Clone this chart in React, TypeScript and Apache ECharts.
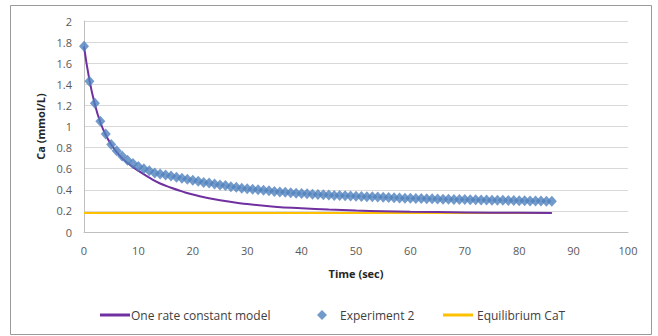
import React, { useEffect, useRef } from "react";
import * as echarts from "echarts";

const expTimes: number[] = Array.from({ length: 87 }, (_, i) => i);
const expValues: number[] = [
  1.76, 1.43, 1.22, 1.05, 0.93, 0.83, 0.77, 0.72, 0.68, 0.65,
  0.62, 0.6, 0.58, 0.56, 0.55, 0.54, 0.53, 0.52, 0.51, 0.5,
  0.49, 0.48, 0.47, 0.465, 0.455, 0.445, 0.44, 0.43, 0.425, 0.415,
  0.41, 0.405, 0.4, 0.395, 0.39, 0.385, 0.38, 0.376, 0.372, 0.368,
  0.365, 0.362, 0.359, 0.356, 0.353, 0.35, 0.347, 0.345, 0.343, 0.341,
  0.339, 0.337, 0.335, 0.333, 0.331, 0.329, 0.327, 0.325, 0.323, 0.321,
  0.32, 0.318, 0.317, 0.315, 0.314, 0.312, 0.311, 0.31, 0.309, 0.308,
  0.307, 0.306, 0.305, 0.304, 0.303, 0.302, 0.301, 0.3, 0.299, 0.298,
  0.297, 0.296, 0.295, 0.294, 0.293, 0.292, 0.291,
];

const modelTimes: number[] = [0, 1, 2, 3, 4, 5, 6, 7, 8, 9, 10, 12, 14, 16, 18, 20, 25, 30, 35, 40, 45, 50, 55, 60, 70, 80, 86];
const modelValues: number[] = [1.76, 1.44, 1.21, 1.04, 0.92, 0.83, 0.76, 0.7, 0.655, 0.615, 0.58, 0.515, 0.46, 0.42, 0.385, 0.355, 0.3, 0.265, 0.24, 0.225, 0.213, 0.204, 0.197, 0.192, 0.186, 0.182, 0.181];

const eqTimes: number[] = [0, 86];
const eqValues: number[] = [0.18, 0.18];

const seriesNames: string[] = ["One rate constant model", "Experiment 2", "Equilibrium CaT"];

export default function App() {
  const ref = useRef<HTMLDivElement>(null);
  useEffect(() => {
    document.body.style.margin = "0";
    if (!ref.current) return;
    const chart = echarts.init(ref.current, null, { renderer: "svg" });
    const font = "'Open Sans', 'Noto Sans', sans-serif";
    const legendText = { color: "#404040", fontSize: 12, fontFamily: font };
    chart.setOption({
      animation: false,
      backgroundColor: "#ffffff",
      textStyle: { fontFamily: font },
      graphic: [
        {
          type: "rect",
          shape: { x: 10.5, y: 5.5, width: 641, height: 329 },
          style: { fill: "none", stroke: "#9a9a9a", lineWidth: 1 },
          silent: true,
        },
      ],
      grid: { left: 84, right: 30, top: 21, bottom: 104 },
      xAxis: {
        type: "value",
        min: 0,
        max: 100,
        interval: 10,
        name: "Time (sec)",
        nameLocation: "middle",
        nameGap: 36,
        nameTextStyle: { fontSize: 11, fontWeight: "bold", color: "#262626", fontFamily: font },
        axisLine: { show: true, lineStyle: { color: "#bfbfbf" } },
        axisTick: { show: false },
        axisLabel: { color: "#595959", fontSize: 11, margin: 13, fontFamily: font },
        splitLine: { show: false },
      },
      yAxis: {
        type: "value",
        min: 0,
        max: 2,
        interval: 0.2,
        name: "Ca (mmol/L)",
        nameLocation: "middle",
        nameGap: 36,
        nameTextStyle: { fontSize: 11, fontWeight: "bold", color: "#262626", fontFamily: font },
        axisLine: { show: true, lineStyle: { color: "#bfbfbf" } },
        axisTick: { show: false },
        axisLabel: {
          color: "#595959",
          fontSize: 11,
          margin: 12,
          fontFamily: font,
          formatter: (v: number) => String(Math.round(v * 10) / 10),
        },
        splitLine: { show: true, lineStyle: { color: "#d9d9d9" } },
      },
      legend: [
        {
          data: [{ name: seriesNames[0], icon: "rect" }],
          left: 95,
          top: 304,
          itemWidth: 30,
          itemHeight: 3,
          textStyle: { ...legendText, padding: [0, 0, 0, -4] },
        },
        {
          data: [{ name: seriesNames[1], icon: "diamond" }],
          left: 312,
          top: 304,
          itemWidth: 10,
          itemHeight: 10,
          textStyle: { ...legendText, padding: [0, 0, 0, 8] },
        },
        {
          data: [{ name: seriesNames[2], icon: "rect" }],
          left: 438,
          top: 304,
          itemWidth: 30,
          itemHeight: 3,
          textStyle: { ...legendText, padding: [0, 0, 0, -1] },
        },
      ],
      series: [
        {
          name: seriesNames[0],
          type: "line",
          smooth: true,
          symbol: "none",
          lineStyle: { color: "#7030a0", width: 2 },
          itemStyle: { color: "#7030a0" },
          data: modelTimes.map((t, i) => [t, modelValues[i]]),
          z: 3,
        },
        {
          name: seriesNames[1],
          type: "scatter",
          symbol: "diamond",
          symbolSize: [10, 11],
          itemStyle: { color: "#4f81bd" },
          data: expTimes.map((t, i) => [t, expValues[i]]),
          z: 4,
        },
        {
          name: seriesNames[2],
          type: "line",
          symbol: "none",
          lineStyle: { color: "#ffc000", width: 2 },
          itemStyle: { color: "#ffc000" },
          data: eqTimes.map((t, i) => [t, eqValues[i]]),
          z: 2,
        },
      ],
    });
    return () => chart.dispose();
  }, []);
  return <div ref={ref} style={{ width: 658, height: 336 }} />;
}
